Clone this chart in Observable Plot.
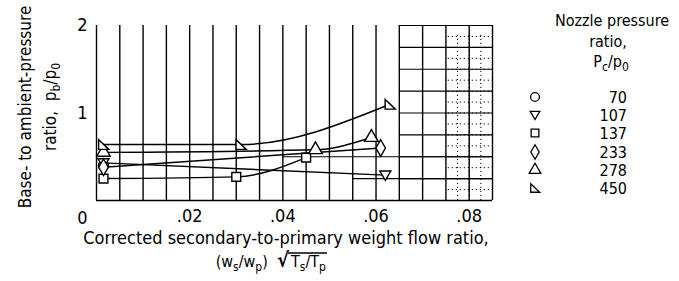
<!DOCTYPE html>
<html><head><meta charset="utf-8">
<script src="https://cdn.jsdelivr.net/npm/d3@7"></script>
<script src="https://cdn.jsdelivr.net/npm/@observablehq/plot@0.6"></script>
<style>
body{margin:0;background:#fff;}
#chart{width:679px;height:281px;}
</style></head><body><div id="chart"></div>
<script>
// ---- data ----
const ratios = [70, 107, 137, 233, 278, 450];
const x70 = [0.0015];               const y70 = [0.40];
const x107 = [0.0015, 0.0620];      const y107 = [0.43, 0.29];
const x137 = [0.0015, 0.0300, 0.0450]; const y137 = [0.25, 0.27, 0.49];
const x233 = [0.0015, 0.0610];      const y233 = [0.38, 0.60];
const x278 = [0.0015, 0.0470, 0.0590]; const y278 = [0.55, 0.58, 0.72];
const x450 = [0.0015, 0.0310, 0.0630]; const y450 = [0.64, 0.64, 1.10];
const xTicks = [0.02, 0.04, 0.06, 0.08];
const yTicks = [1, 2];
const xGrid = d3.range(0, 0.0851, 0.005);
const hGrid = [0.25, 0.5, 0.75, 1, 1.25, 1.5, 1.75, 2];

const FONT = "'DejaVu Sans Condensed','Liberation Sans Narrow',sans-serif";

// custom symbols
const symDown = {draw(ctx, size){ const s = Math.sqrt(size)*0.62; ctx.moveTo(-s,-s*0.75); ctx.lineTo(s,-s*0.75); ctx.lineTo(0,s*0.95); ctx.closePath(); }};
const symFlag = {draw(ctx, size){ const s = Math.sqrt(size)*0.55; ctx.moveTo(-s,-s); ctx.lineTo(-s,s); ctx.lineTo(s*1.1,s); ctx.closePath(); }};
const symbols = [d3.symbolCircle, symDown, d3.symbolSquare, d3.symbolDiamond, d3.symbolTriangle, symFlag];
const xs = [x70, x107, x137, x233, x278, x450];
const ys = [y70, y107, y137, y233, y278, y450];

const series = ratios.map((r, i) => xs[i].map((x, j) => ({x, y: ys[i][j], r})));

const marks = [
  Plot.ruleX(xGrid, {stroke: "#000", strokeWidth: 1.4}),
  Plot.ruleY(hGrid, {x1: 0.065, x2: 0.085, stroke: "#000", strokeWidth: 1.2}),
  Plot.ruleY([0.5], {x1: 0.04, x2: 0.085, stroke: "#000", strokeWidth: 1.2}),
  Plot.ruleY([0.25], {x1: 0.055, x2: 0.085, stroke: "#000", strokeWidth: 1.2}),
  Plot.ruleY([0], {stroke: "#000", strokeWidth: 1.6}),
  Plot.ruleX(d3.range(0.0775, 0.085, 0.0025), {y1: 0, y2: 1.9, stroke: "#000", strokeWidth: 1, strokeDasharray: "1.2,2.8"}),
  Plot.ruleY(d3.range(0.125, 1.9, 0.125), {x1: 0.0755, x2: 0.085, stroke: "#000", strokeWidth: 1, strokeDasharray: "1.2,2.8"}),
  Plot.axisX(xTicks, {tickSize: 0, tickPadding: 9, label: null, fontSize: 18,
    tickFormat: d => "." + d3.format(".2f")(d).slice(2)}),
  Plot.axisY(yTicks, {tickSize: 0, tickPadding: 9, label: null, fontSize: 18, tickFormat: d3.format("d")}),
  Plot.text([0], {x: d => d, y: 0, text: () => "0", dx: -14, dy: 18, fontSize: 18, fill: "#000"})
];
series.forEach((d, i) => {
  if (d.length > 1) marks.push(Plot.line(d, {x: "x", y: "y", curve: "monotone-x", stroke: "#000", strokeWidth: 1.5}));
});
series.forEach((d, i) => {
  marks.push(Plot.dot(d, {x: "x", y: "y", symbol: symbols[i], r: 5, stroke: "#000", fill: "#fff", strokeWidth: 1.4}));
});

const plot = Plot.plot({
  width: 679, height: 281,
  marginLeft: 96, marginRight: 187, marginTop: 25, marginBottom: 81,
  style: {fontFamily: FONT, fontSize: "18px", color: "#000", background: "#fff"},
  x: {domain: [0, 0.085]},
  y: {domain: [0, 2]},
  marks
});
document.getElementById("chart").append(plot);

const svg = d3.select(plot);
const g = svg.append("g").attr("font-family", FONT).attr("fill", "#000");

// y label
g.append("text").attr("transform", "translate(31,107) rotate(-90)").attr("text-anchor", "middle").attr("font-size", 17)
  .text("Base- to ambient-pressure");
const yl2 = g.append("text").attr("transform", "translate(56,107) rotate(-90)").attr("text-anchor", "middle").attr("font-size", 17);
yl2.append("tspan").text("ratio,  p");
yl2.append("tspan").attr("font-size", 12).attr("dy", 4).text("b");
yl2.append("tspan").attr("dy", -4).text("/p");
yl2.append("tspan").attr("font-size", 12).attr("dy", 4).text("0");

// x label
g.append("text").attr("x", 286).attr("y", 244).attr("text-anchor", "middle").attr("font-size", 18)
  .text("Corrected secondary-to-primary weight flow ratio,");
const xa = g.append("text").attr("x", 289).attr("y", 267).attr("text-anchor", "end").attr("font-size", 16);
xa.append("tspan").text("(w");
xa.append("tspan").attr("font-size", 12).attr("dy", 4).text("s");
xa.append("tspan").attr("dy", -4).text("/w");
xa.append("tspan").attr("font-size", 12).attr("dy", 4).text("p");
xa.append("tspan").attr("dy", -4).text(")  ");
xa.append("tspan").attr("font-size", 20).attr("font-weight", "bold").text("√");
const xb = g.append("text").attr("x", 291).attr("y", 267).attr("text-anchor", "start").attr("font-size", 16);
xb.append("tspan").text("T");
xb.append("tspan").attr("font-size", 12).attr("dy", 4).text("s");
xb.append("tspan").attr("dy", -4).text("/T");
xb.append("tspan").attr("font-size", 12).attr("dy", 4).text("p");
const bb = xb.node().getBBox();
g.append("line").attr("x1", 288).attr("x2", bb.x + bb.width + 1).attr("y1", 253).attr("y2", 253)
  .attr("stroke", "#000").attr("stroke-width", 1.3);

// legend
g.append("text").attr("x", 612).attr("y", 26).attr("text-anchor", "middle").attr("font-size", 16).text("Nozzle pressure");
g.append("text").attr("x", 608).attr("y", 47).attr("text-anchor", "middle").attr("font-size", 16).text("ratio,");
const lt = g.append("text").attr("x", 611).attr("y", 67).attr("text-anchor", "middle").attr("font-size", 16);
lt.append("tspan").text("P");
lt.append("tspan").attr("font-size", 12).attr("dy", 4).text("c");
lt.append("tspan").attr("dy", -4).text("/p");
lt.append("tspan").attr("font-size", 12).attr("dy", 4).text("0");
const rowY = [97, 115, 133, 152, 170, 188];
ratios.forEach((r, i) => {
  g.append("path").attr("transform", `translate(535,${rowY[i]})`)
    .attr("d", d3.symbol().type(symbols[i]).size(60)())
    .attr("fill", "#fff").attr("stroke", "#000").attr("stroke-width", 1.3);
  g.append("text").attr("x", 627).attr("y", rowY[i] + 6).attr("text-anchor", "end").attr("font-size", 16).text(r);
});
</script></body></html>
